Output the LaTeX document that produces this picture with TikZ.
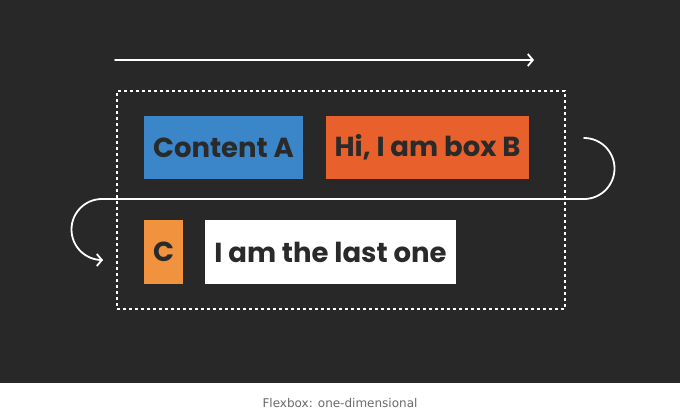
\documentclass[tikz,border=0pt]{standalone}
\usepackage{fontspec}
\newfontfamily\pop{Poppins}
\newfontfamily\capfont{DejaVu Sans}
\usetikzlibrary{arrows.meta}
\definecolor{bgdark}{HTML}{282828}
\definecolor{txtdark}{HTML}{2A2A2A}
\definecolor{boxblue}{HTML}{3A86C8}
\definecolor{boxorange}{HTML}{E8612C}
\definecolor{boxlight}{HTML}{F0923E}
\definecolor{capgray}{HTML}{6A6A6A}
\tikzset{
  item/.style={inner sep=0pt, outer sep=0pt, font=\pop\bfseries\fontsize{27.5}{27.5}\selectfont, text=txtdark},
  flow/.style={draw=white, line width=1.8pt, line cap=round, -{Straight Barb[length=5pt,width=12pt,line width=1.8pt]}},
  wrap/.style={draw=white, line width=1.8pt, line cap=round},
}
\begin{document}
\begin{tikzpicture}[x=1pt,y=-1pt]
\fill[white] (0,0) rectangle (680,413);
\fill[bgdark] (0,0) rectangle (680,383);
\useasboundingbox (0,0) rectangle (680,413);
% main axis arrow
\coordinate (axs) at (115,60);
\coordinate (axe) at (534,60);
\draw[flow] (axs) -- (axe);
% container
\node[draw=white, line width=1.8pt, dash pattern=on 3pt off 3pt, minimum width=448pt, minimum height=218pt, inner sep=0pt, anchor=north west] (cont) at (116,90) {};
% items
\node[item, fill=boxblue, minimum width=159pt, minimum height=63pt, anchor=north west] (a) at (144,116) {Content A};
\node[item, fill=boxorange, minimum width=203pt, minimum height=63pt, anchor=north west] (b) at (326,116) {Hi, I am box B};
\node[item, fill=boxlight, minimum width=39pt, minimum height=64pt, anchor=north west] (c) at (144,220) {C};
\node[item, fill=white, minimum width=251pt, minimum height=64pt, anchor=north west] (d) at (205,220) {I am the last one};
% wrap connector
\coordinate (w1) at (584,138);
\coordinate (w2) at (102,199);
\coordinate (w3) at (103,260);
\draw[wrap] (w1) arc[start angle=90, end angle=-90, radius=30.5pt] -- (w2) arc[start angle=90, end angle=270, radius=30.5pt];
\draw[flow] ([xshift=-3pt]w3) -- (w3);
% caption
\node[font=\capfont\fontsize{12}{13}\selectfont, text=capgray] (cap) at (340,403) {Flexbox: one-dimensional};
\end{tikzpicture}
\end{document}
